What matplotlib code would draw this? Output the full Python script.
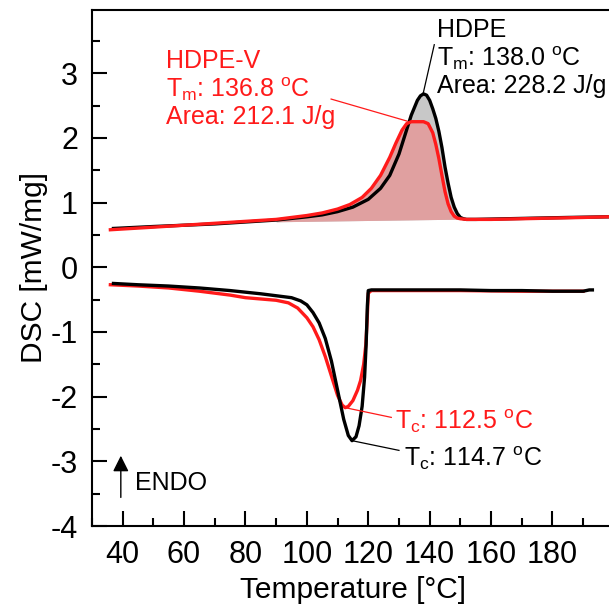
import numpy as np
import matplotlib
matplotlib.use("Agg")
import matplotlib.pyplot as plt

plt.rcParams['font.family'] = ['Liberation Sans', 'DejaVu Sans']
plt.rcParams['mathtext.fontset'] = 'custom'
plt.rcParams['mathtext.rm'] = 'Liberation Sans'
plt.rcParams['mathtext.it'] = 'Liberation Sans:italic'
plt.rcParams['axes.unicode_minus'] = False

# heating scans (upper curves)
heat_T_hdpe = [37, 50, 60, 70, 80, 90, 100, 105, 110, 115, 120, 124, 127, 130, 132, 134, 136, 137, 138,
               139, 140, 141, 142, 143, 144, 145, 146, 147, 148, 149, 150, 151, 152, 155, 165, 175, 185, 198]
heat_hdpe = [0.60, 0.63, 0.65, 0.67, 0.70, 0.73, 0.78, 0.81, 0.86, 0.93, 1.05, 1.22, 1.42, 1.75, 2.05, 2.35,
             2.58, 2.65, 2.68, 2.66, 2.58, 2.45, 2.30, 2.10, 1.85, 1.55, 1.30, 1.08, 0.93, 0.83, 0.77, 0.75,
             0.74, 0.74, 0.75, 0.76, 0.77, 0.78]

heat_T_v = [36, 50, 60, 70, 80, 90, 100, 105, 110, 114, 118, 121, 124, 127, 129, 131, 132.5, 134, 136, 138,
            139.5, 141, 142, 143, 144, 145, 146, 147, 148, 149, 150, 152, 160, 170, 180, 190, 198]
heat_v = [0.58, 0.62, 0.65, 0.68, 0.71, 0.74, 0.80, 0.84, 0.90, 0.97, 1.08, 1.22, 1.42, 1.70, 1.92, 2.12,
          2.22, 2.25, 2.25, 2.25, 2.22, 2.08, 1.90, 1.68, 1.42, 1.17, 0.98, 0.86, 0.79, 0.76, 0.75, 0.74,
          0.74, 0.75, 0.76, 0.77, 0.78]

# integration baseline for the melting peak
base_T = [85, 152]
base_V = [0.70, 0.745]

# cooling scans (lower curves)
cool_T_hdpe = [37, 45, 55, 65, 75, 85, 90, 95, 98, 100, 102, 104, 106, 108, 110, 112, 113.5, 114.7, 116,
               117, 118, 118.8, 119.3, 119.7, 120, 121, 130, 140, 150, 160, 170, 180, 190, 192, 193]
cool_hdpe = [-0.25, -0.27, -0.29, -0.32, -0.36, -0.41, -0.44, -0.47, -0.52, -0.58, -0.70, -0.86, -1.10,
             -1.45, -1.90, -2.35, -2.60, -2.68, -2.62, -2.45, -2.15, -1.70, -1.20, -0.60, -0.36, -0.35,
             -0.35, -0.35, -0.35, -0.36, -0.36, -0.37, -0.37, -0.35, -0.35]

cool_T_v = [36, 45, 55, 65, 75, 80, 85, 90, 94, 97, 100, 102, 104, 106, 108, 110, 111.5, 112.5, 113.5,
            115, 116.5, 117.5, 118.5, 119.2, 119.6, 120, 121, 130, 150, 170, 180, 190]
cool_v = [-0.27, -0.29, -0.32, -0.37, -0.43, -0.47, -0.49, -0.51, -0.55, -0.63, -0.78, -0.92, -1.12, -1.38,
          -1.68, -1.98, -2.13, -2.17, -2.15, -2.06, -1.90, -1.75, -1.50, -1.20, -0.85, -0.40, -0.36, -0.36,
          -0.36, -0.37, -0.37, -0.37]

x_ticks = [40, 60, 80, 100, 120, 140, 160, 180]
y_ticks = [-4, -3, -2, -1, 0, 1, 2, 3]

red = '#ff1a1a'

fig = plt.figure(figsize=(6.09, 6.11), dpi=100)
ax = fig.add_axes([0.151, 0.139, 0.857, 0.845])


def peak_fill(T, V, color):
    T = np.array(T, dtype=float)
    V = np.array(V, dtype=float)
    sel = (T >= base_T[0]) & (T <= base_T[1])
    b = np.interp(T[sel], base_T, base_V)
    ax.fill_between(T[sel], V[sel], b, color=color, lw=0)


peak_fill(heat_T_hdpe, heat_hdpe, '#c8c8c8')
peak_fill(heat_T_v, heat_v, '#e0a0a0')

ax.plot(heat_T_hdpe, heat_hdpe, color='black', lw=2.4)
ax.plot(heat_T_v, heat_v, color=red, lw=2.4)
ax.plot(cool_T_v, cool_v, color=red, lw=2.4)
ax.plot(cool_T_hdpe, cool_hdpe, color='black', lw=2.4)

ax.set_xlim(30, 200)
ax.set_ylim(-4, 3.98)
ax.set_xticks(x_ticks)
ax.set_yticks(y_ticks)
ax.set_xticks(np.arange(30, 200, 10), minor=True)
ax.set_yticks(np.arange(-4, 4, 0.5), minor=True)
ax.tick_params(which='both', direction='in', width=1.5, labelsize=22, top=False, right=False)
ax.tick_params(which='major', length=11, pad=10)
ax.tick_params(which='minor', length=5.5)
for s in ax.spines.values():
    s.set_linewidth(1.5)
ax.set_xlabel('Temperature [°C]', fontsize=21.5, labelpad=4)
ax.set_ylabel('DSC [mW/mg]', fontsize=21.5, labelpad=2)

fs = 18
ax.text(54, 2.75, 'HDPE-V\nT$_\\mathrm{m}$: 136.8 $^\\mathrm{o}$C\nArea: 212.1 J/g', color=red,
        fontsize=fs, va='center', ha='left', linespacing=1.1)
ax.plot([107.9, 132.6], [2.6, 2.26], color=red, lw=0.9)

ax.text(142.3, 3.23, 'HDPE\nT$_\\mathrm{m}$: 138.0 $^\\mathrm{o}$C\nArea: 228.2 J/g', color='black',
        fontsize=fs, va='center', ha='left', linespacing=1.1)
ax.plot([141.5, 137.9], [3.44, 2.69], color='black', lw=0.9)

ax.text(128.8, -2.37, 'T$_\\mathrm{c}$: 112.5 $^\\mathrm{o}$C', color=red, fontsize=fs, va='center', ha='left')
ax.plot([112.5, 127.5], [-2.17, -2.32], color=red, lw=0.9)

ax.text(131.5, -2.95, 'T$_\\mathrm{c}$: 114.7 $^\\mathrm{o}$C', color='black', fontsize=fs, va='center', ha='left')
ax.plot([114.7, 130], [-2.68, -2.83], color='black', lw=0.9)

ax.annotate('', xy=(39.4, -2.87), xytext=(39.4, -3.6),
            arrowprops=dict(arrowstyle='-|>', color='black', lw=1.0, mutation_scale=24))
ax.text(44, -3.33, 'ENDO', fontsize=18, va='center', ha='left')

fig.savefig('out.png', dpi=100)
